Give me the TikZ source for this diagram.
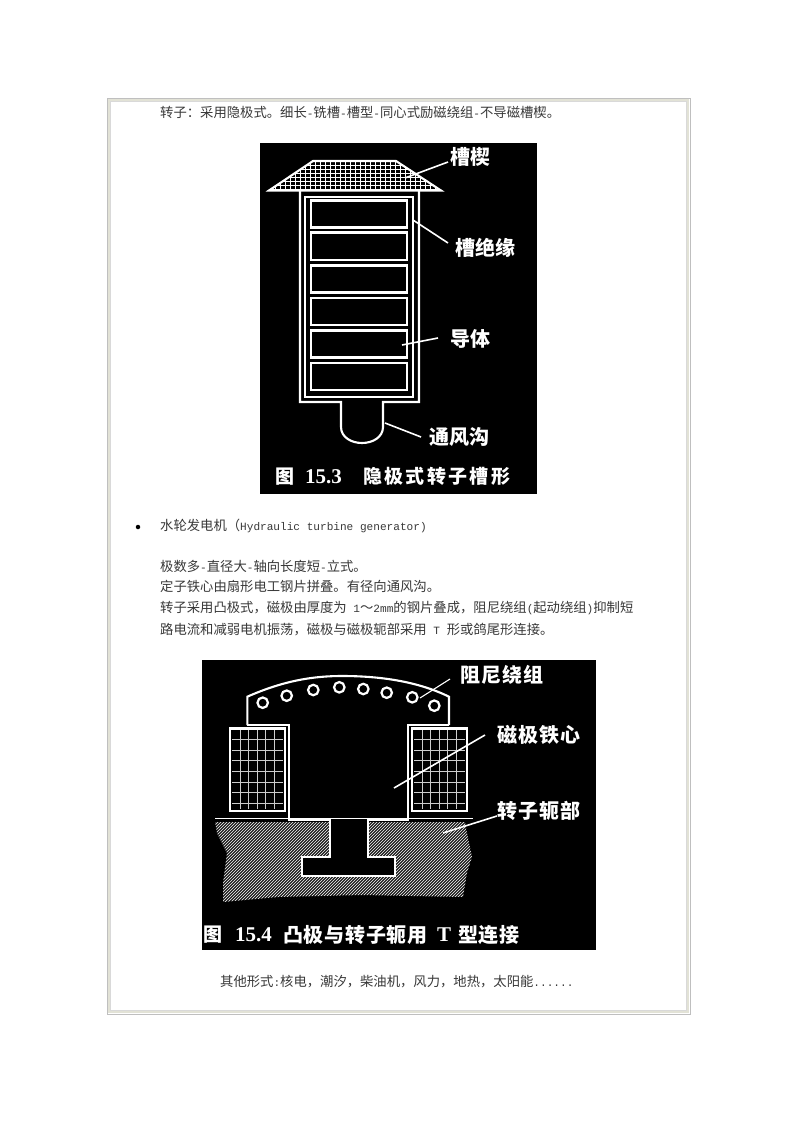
\documentclass[tikz,border=0pt]{standalone}
\usepackage{fontspec}
\setmainfont{Noto Sans CJK SC}
\newfontfamily\mofont{Liberation Mono}
\newfontfamily\capfont{Liberation Serif}
\newcommand{\mo}[1]{{\mofont\fontsize{11.1}{13}\selectfont #1}}
\definecolor{framecol}{HTML}{E2E2D6}
\tikzset{
  wl/.style={draw=white,line width=2.1pt},
  thinwl/.style={draw=white,line width=1.1pt},
  leader/.style={draw=white,line width=1.6pt},
  body/.style={inner sep=0pt,anchor=west,text=black!78,font=\fontsize{13.33}{13.33}\selectfont},
  lab/.style={inner sep=0pt,text=white,font=\fontsize{20}{20}\selectfont\bfseries},
  captxt/.style={inner sep=0pt,text=white,anchor=west,font=\fontsize{19}{19}\selectfont\bfseries},
  capnum/.style={inner sep=0pt,text=white,anchor=west,font=\capfont\fontsize{21}{21}\selectfont\bfseries},
}
\begin{document}
\begin{tikzpicture}[x=1pt,y=-1pt]
\useasboundingbox (0,0) rectangle (800,1132);
\fill[white] (0,0) rectangle (800,1132);
% frame
\draw[draw=black!25,line width=0.8pt] (107,98) rectangle (690,1014);
\draw[draw=framecol,line width=2.4pt] (108.8,99.8) rectangle (688.2,1012.2);
\draw[draw=black!15,line width=0.6pt] (110.5,101.5) rectangle (686.5,1010.5);
% body text
\node[body] (t1) at (160,112) {转子：采用隐极式。细长\mo{-}铣槽\mo{-}槽型\mo{-}同心式励磁绕组\mo{-}不导磁槽楔。};
\node[circle,fill=black,inner sep=0pt,minimum size=4.5pt] (bul) at (138,527) {};
\node[body] (t2) at (160,526) {水轮发电机（\mo{Hydraulic turbine generator)}};
\node[body] (t3) at (160,566) {极数多\mo{-}直径大\mo{-}轴向长度短\mo{-}立式。};
\node[body] (t4) at (160,586) {定子铁心由扇形电工钢片拼叠。有径向通风沟。};
\node[body] (t5) at (160,608) {转子采用凸极式，磁极由厚度为\mo{ 1}～\mo{2mm}的钢片叠成，阻尼绕组\mo{(}起动绕组\mo{)}抑制短};
\node[body] (t6) at (160,630) {路电流和减弱电机振荡，磁极与磁极轭部采用\mo{ T }形或鸽尾形连接。};
\node[body] (t7) at (220,982) {其他形式\mo{:}核电，潮汐，柴油机，风力，地热，太阳能\mo{......}};

% ---------- figure 15.3
\fill[black] (260,143) rectangle (537,494);
\begin{scope}
  \clip (313,161) -- (396,161) -- (441,190.5) -- (269,190.5) -- cycle;
  \foreach \x in {270,275,...,440} \draw[white,line width=0.9pt] (\x,160) -- (\x,191);
  \foreach \y in {161,165,...,191} \draw[white,line width=1pt] (265,\y) -- (445,\y);
\end{scope}
\draw[wl] (313,161) -- (396,161) -- (441,190.5) -- (269,190.5) -- cycle;
\draw[wl] (300,190.5) -- (300,402) -- (341,402) -- (341,427)
  .. controls (341,437) and (351,443) .. (362,443)
  .. controls (373,443) and (383,437) .. (383,427) -- (383,402) -- (419,402) -- (419,190.5);
\draw[wl] (305,197) rectangle (413,397);
\foreach \a/\b in {200.5/227.5,232.5/260,265.5/292.5,298/325,330.5/357.5,363/390}
  \draw[wl] (311,\a) rectangle (407,\b);
\coordinate (a1) at (405,178); \coordinate (a2) at (448,162);
\coordinate (b1) at (413,220); \coordinate (b2) at (448,243);
\coordinate (c1) at (402,345); \coordinate (c2) at (438,338);
\coordinate (d1) at (385,423); \coordinate (d2) at (421,437);
\draw[leader] (a1) -- (a2);
\draw[leader] (b1) -- (b2);
\draw[leader] (c1) -- (c2);
\draw[leader] (d1) -- (d2);
\node[lab] (la) at (470,157) {槽楔};
\node[lab] (lb) at (485,248) {槽绝缘};
\node[lab] (lc) at (470,339) {导体};
\node[lab] (ld) at (459,437) {通风沟};
\node[captxt] (ca) at (275,476.5) {图};
\node[capnum] (cb) at (305,476.5) {15.3};
\node[captxt] (cc) at (363,476.5) {\addfontfeature{LetterSpace=12.3}隐极式转子槽形};

% ---------- figure 15.4
\fill[black] (201.5,660) rectangle (595.5,950);
% yoke hatch
\begin{scope}
  \clip (215,822) -- (217,833) -- (227,853) -- (223,883) -- (223,902) -- (278,897) -- (362,895)
    -- (463,897) -- (467,873) -- (472,857) -- (467,833) -- (465,822) -- cycle;
  \foreach \x in {120,123,...,480} \draw[white!82!black,line width=0.9pt] (\x,905) -- (\x+90,815);
\end{scope}
\fill[black] (330,818) -- (330,857) -- (302,857) -- (302,876) -- (395,876) -- (395,857) -- (368,857) -- (368,818) -- cycle;
% pole outline
\draw[wl] (247.3,725) -- (247.3,696.7) .. controls (285,680) and (315,676) .. (342,676)
  .. controls (375,676) and (415,680) .. (449,696.7) -- (449,725);
\draw[wl] (247.3,725) -- (289,725) -- (289,819.5) -- (330,819.5) -- (330,857) -- (302,857) -- (302,876)
  -- (395,876) -- (395,857) -- (368,857) -- (368,819.5) -- (408,819.5) -- (408,725) -- (449,725);
\draw[thinwl] (215,818.5) -- (473,818.5);
% coils
\foreach \l in {232,414}{
  \foreach \i in {1,...,5} \draw[white!80!black,line width=0.8pt] (\l+8.4*\i,730) -- (\l+8.4*\i,809);
  \foreach \i in {1,...,7} \draw[white!80!black,line width=0.8pt] (\l,729+10.6*\i) -- (\l+51,729+10.6*\i);
}
\draw[wl] (230,728.5) rectangle (285,811);
\draw[wl] (412,728.5) rectangle (467,811);
\foreach \n/\x/\y in {1/262.7/702.7,2/286.7/695.7,3/313.3/690,4/339.3/687.3,5/363.3/689,6/386.7/692.7,7/412.3/697.3,8/434.3/705.7}
  \node[circle,draw=white,line width=2.2pt,inner sep=0pt,minimum width=10.5pt,minimum height=10.5pt] (h\n) at (\x,\y) {};
\coordinate (e1) at (420,698); \coordinate (e2) at (450,679);
\coordinate (f1) at (394,788); \coordinate (f2) at (485,735);
\coordinate (g1) at (443,833); \coordinate (g2) at (497,816);
\draw[leader,line width=1.1pt] (e1) -- (e2);
\draw[leader] (f1) -- (f2);
\draw[leader] (g1) -- (g2);
\node[lab,anchor=west] (le) at (460,675) {\addfontfeature{LetterSpace=5}阻尼绕组};
\node[lab,anchor=west] (lf) at (497,735) {\addfontfeature{LetterSpace=5}磁极铁心};
\node[lab,anchor=west] (lg) at (497,811) {\addfontfeature{LetterSpace=5}转子轭部};
\node[captxt] (da) at (203,935) {图};
\node[capnum] (db) at (235,935) {15.4};
\node[captxt,font=\fontsize{20}{20}\selectfont\bfseries] (dc) at (283,935) {\addfontfeature{LetterSpace=3.5}凸极与转子轭用};
\node[capnum] (dd) at (437,935) {T};
\node[captxt,font=\fontsize{20}{20}\selectfont\bfseries] (de) at (458,935) {\addfontfeature{LetterSpace=3.5}型连接};
\end{tikzpicture}
\end{document}
